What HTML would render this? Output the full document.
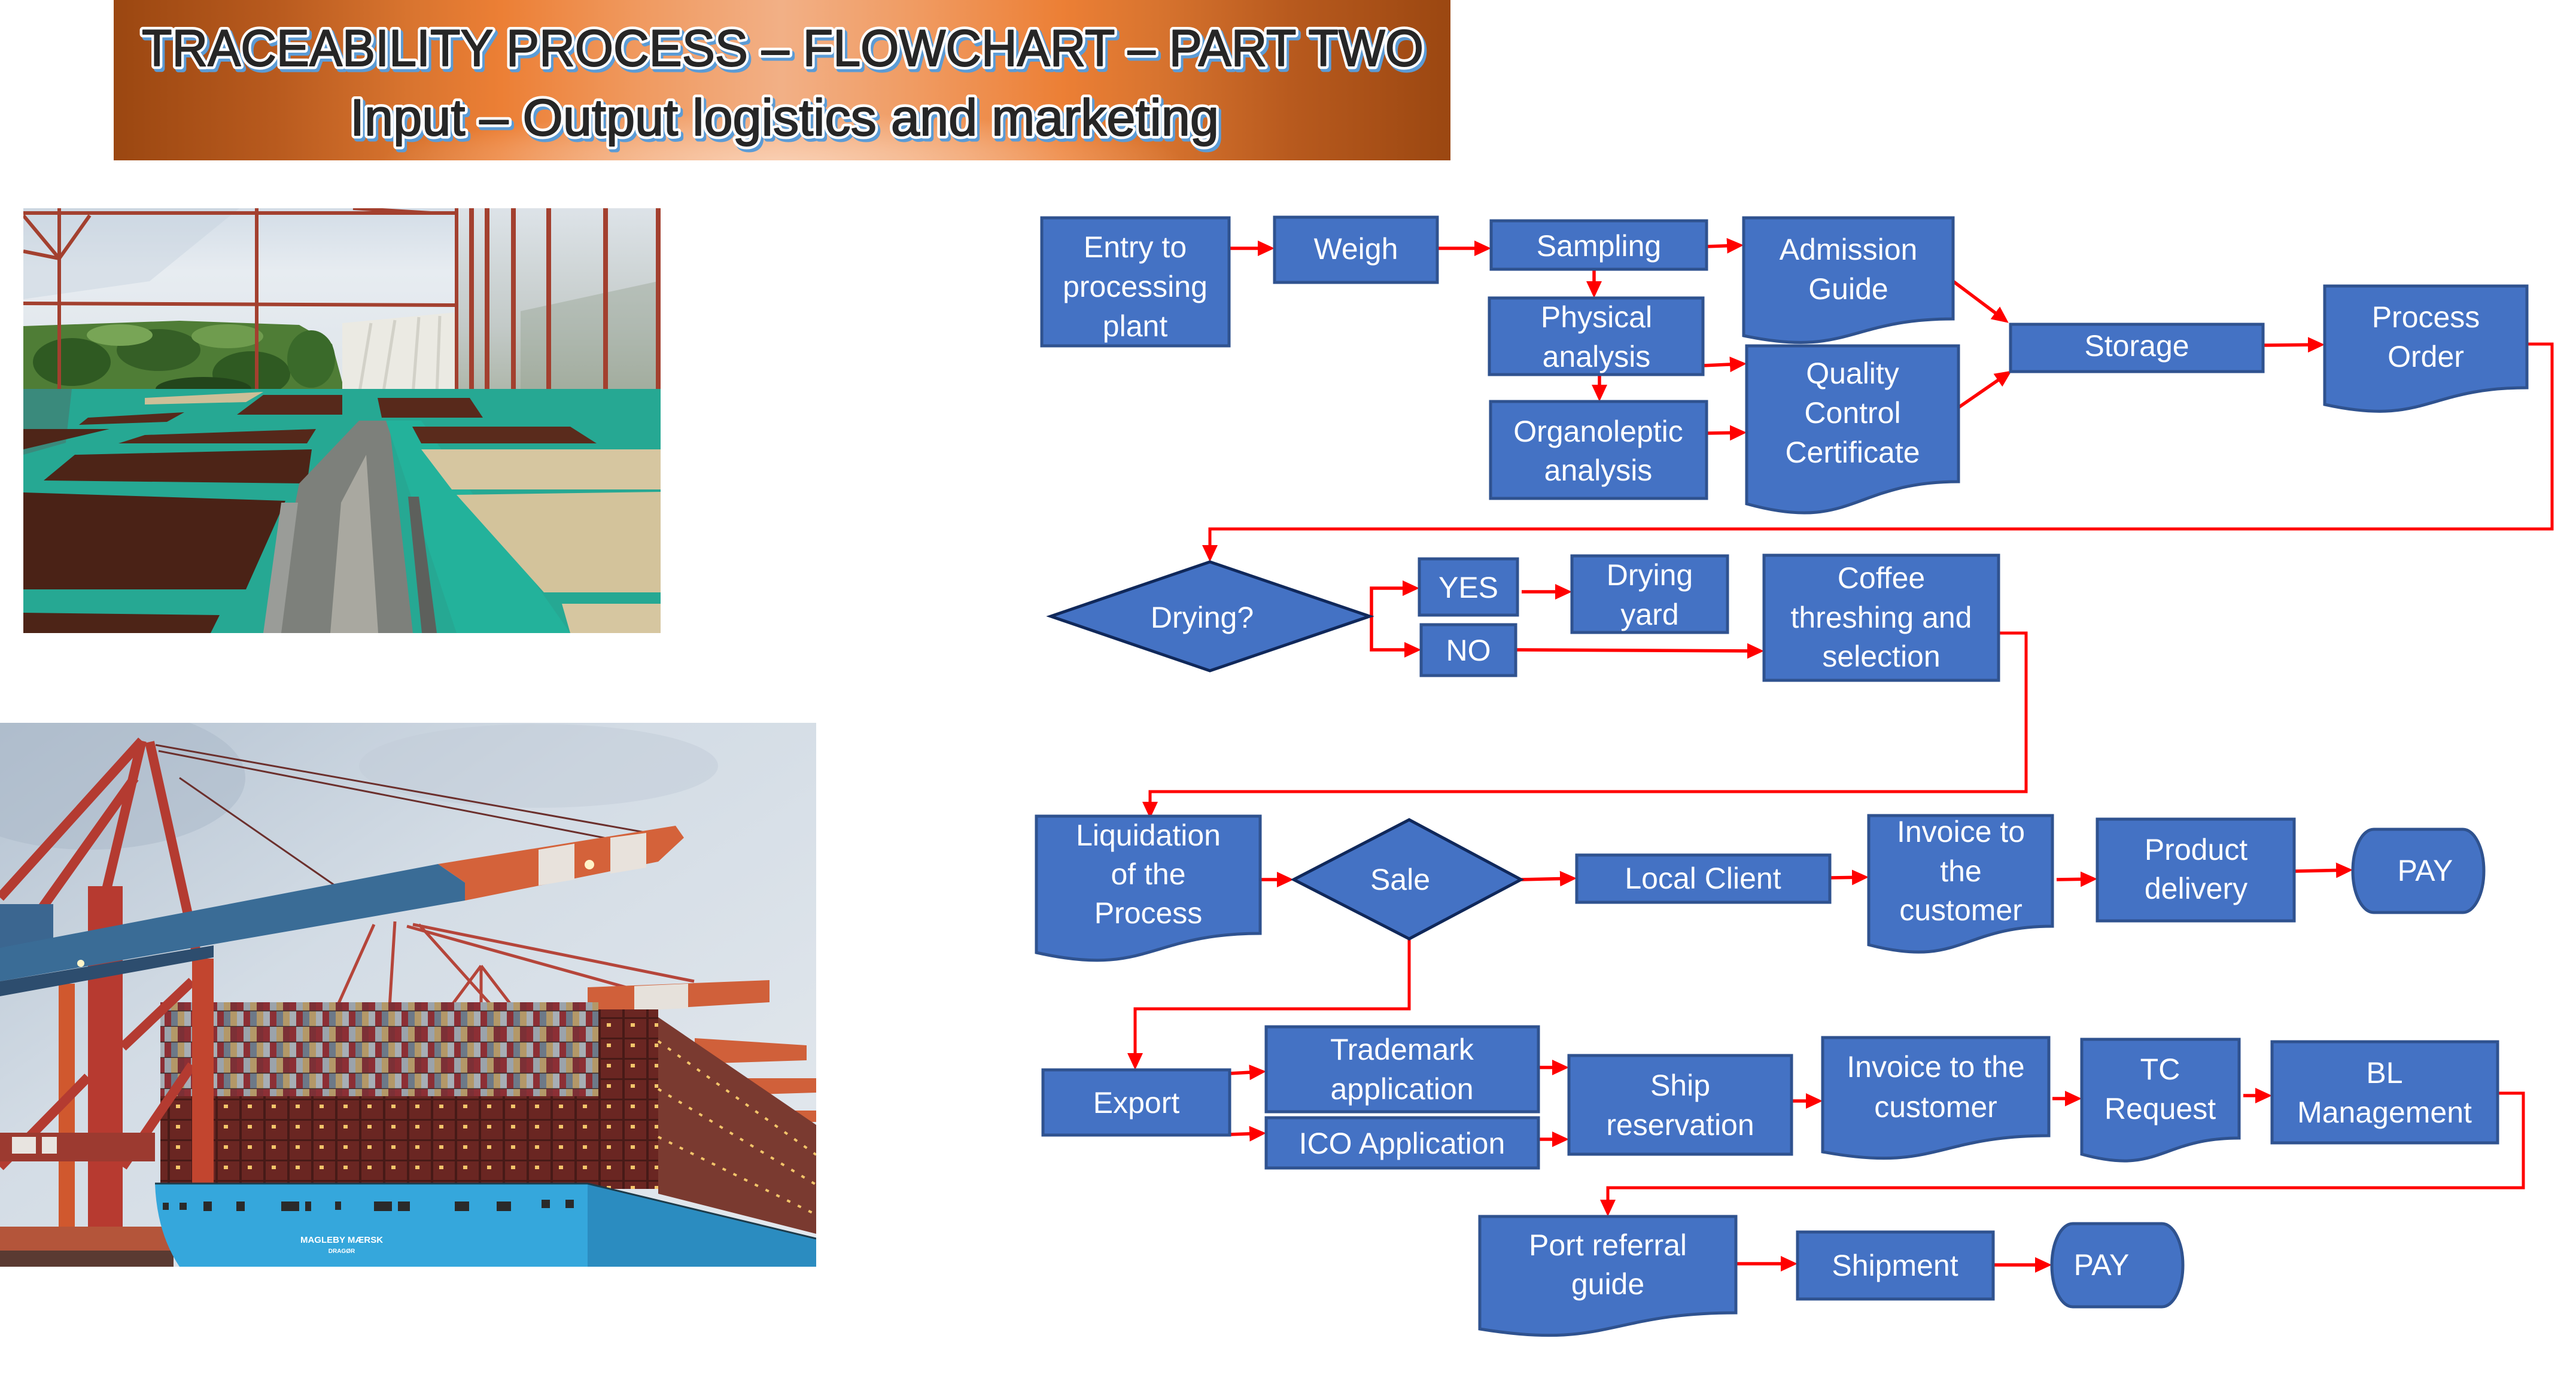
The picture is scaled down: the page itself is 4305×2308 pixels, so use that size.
<!DOCTYPE html>
<html><head><meta charset="utf-8">
<style>
html,body{margin:0;padding:0;background:#fff;}
svg{display:block;}
.bx{fill:#4472c4;stroke:#2f528f;stroke-width:5;}
.dm{fill:#4472c4;stroke:#10285a;stroke-width:5;}
.t{font-family:"Liberation Sans",sans-serif;font-size:50px;fill:#fff;text-anchor:middle;}
.ar{fill:none;stroke:#ff0000;stroke-width:5.5;marker-end:url(#ah);}
.cn{fill:none;stroke:#ff0000;stroke-width:5;stroke-linejoin:miter;marker-end:url(#ah);}
.rf{stroke:#a3402f;fill:none;}
</style></head>
<body>
<svg width="4305" height="2308" viewBox="0 0 4305 2308" xmlns="http://www.w3.org/2000/svg">
<defs>
  <linearGradient id="tg" x1="0" y1="0" x2="1" y2="0">
    <stop offset="0" stop-color="#9b4711"/>
    <stop offset="0.12" stop-color="#b85a1e"/>
    <stop offset="0.22" stop-color="#d8742f"/>
    <stop offset="0.29" stop-color="#ec7f35"/>
    <stop offset="0.4" stop-color="#f09b62"/>
    <stop offset="0.5" stop-color="#f2b086"/>
    <stop offset="0.6" stop-color="#f09b62"/>
    <stop offset="0.71" stop-color="#ec7f35"/>
    <stop offset="0.78" stop-color="#d8742f"/>
    <stop offset="0.88" stop-color="#b85a1e"/>
    <stop offset="1" stop-color="#9b4711"/>
  </linearGradient>
  <radialGradient id="tr" cx="0.5" cy="1" r="0.3">
    <stop offset="0" stop-color="#fad3b8" stop-opacity="0.85"/>
    <stop offset="1" stop-color="#fad3b8" stop-opacity="0"/>
  </radialGradient>
  <marker id="ah" markerUnits="userSpaceOnUse" markerWidth="28" markerHeight="26" viewBox="0 0 28 26" refX="22" refY="13" orient="auto">
    <path d="M0,0 L28,13 L0,26 Z" fill="#ff0000"/>
  </marker>
  <clipPath id="c1"><rect x="39" y="348" width="1065" height="710"/></clipPath>
  <clipPath id="c2"><rect x="0" y="1208" width="1364" height="909"/></clipPath>
  <linearGradient id="roof" x1="0" y1="0" x2="0" y2="1">
    <stop offset="0" stop-color="#d3dde7"/>
    <stop offset="0.15" stop-color="#e7ecf1"/>
    <stop offset="0.3" stop-color="#e2e8ed"/>
    <stop offset="1" stop-color="#d0d6d8"/>
  </linearGradient>
  <linearGradient id="wall" x1="0" y1="0" x2="0" y2="1">
    <stop offset="0" stop-color="#dde3e8"/>
    <stop offset="0.5" stop-color="#c3cac8"/>
    <stop offset="1" stop-color="#9ea894"/>
  </linearGradient>
  <linearGradient id="sky" x1="0" y1="0" x2="1" y2="1">
    <stop offset="0" stop-color="#b4c2d1"/>
    <stop offset="0.4" stop-color="#d3dce5"/>
    <stop offset="1" stop-color="#e4e9ee"/>
  </linearGradient>
  <pattern id="cont" width="44" height="52" patternUnits="userSpaceOnUse">
    <rect x="0" y="0" width="11" height="26" fill="#8c2f35"/>
    <rect x="11" y="0" width="11" height="26" fill="#9ba3ab"/>
    <rect x="22" y="0" width="11" height="26" fill="#b39868"/>
    <rect x="33" y="0" width="11" height="26" fill="#7c3036"/>
    <rect x="0" y="26" width="11" height="26" fill="#a7aeb5"/>
    <rect x="11" y="26" width="11" height="26" fill="#8c2f35"/>
    <rect x="22" y="26" width="11" height="26" fill="#6d7988"/>
    <rect x="33" y="26" width="11" height="26" fill="#b39868"/>
    <path d="M0,25.5 H44 M0,51.5 H44" stroke="#3a2a2a" stroke-width="1.5"/>
  </pattern>
  <pattern id="lite" width="40" height="34" patternUnits="userSpaceOnUse">
    <rect x="0" y="0" width="40" height="34" fill="#6a2622"/>
    <rect x="0" y="0" width="4" height="34" fill="#471a17"/>
    <rect x="0" y="0" width="40" height="3" fill="#471a17"/>
    <rect x="14" y="10" width="7" height="6" fill="#f3c56b"/>
  </pattern>
</defs>

<!-- ============ TITLE BAND ============ -->
<rect x="190" y="0" width="2234" height="268" fill="url(#tg)"/>
<rect x="190" y="0" width="2234" height="268" fill="url(#tr)"/>
<g font-family="Liberation Sans, sans-serif" font-size="86" stroke-linejoin="round">
  <text x="241" y="115" textLength="2142" lengthAdjust="spacingAndGlyphs" fill="#5b9bd5" stroke="#5b9bd5" stroke-width="11">TRACEABILITY PROCESS – FLOWCHART – PART TWO</text>
  <text x="237" y="110" textLength="2142" lengthAdjust="spacingAndGlyphs" fill="#ffffff" stroke="#ffffff" stroke-width="11">TRACEABILITY PROCESS – FLOWCHART – PART TWO</text>
  <text x="237" y="110" textLength="2142" lengthAdjust="spacingAndGlyphs" fill="#262626" stroke="#262626" stroke-width="2">TRACEABILITY PROCESS – FLOWCHART – PART TWO</text>
  <text x="589" y="231" textLength="1452" lengthAdjust="spacingAndGlyphs" fill="#5b9bd5" stroke="#5b9bd5" stroke-width="11">Input – Output logistics and marketing</text>
  <text x="585" y="226" textLength="1452" lengthAdjust="spacingAndGlyphs" fill="#ffffff" stroke="#ffffff" stroke-width="11">Input – Output logistics and marketing</text>
  <text x="585" y="226" textLength="1452" lengthAdjust="spacingAndGlyphs" fill="#262626" stroke="#262626" stroke-width="2">Input – Output logistics and marketing</text>
</g>

<!-- ============ PHOTO 1 : drying beds ============ -->
<g clip-path="url(#c1)">
  <rect x="39" y="348" width="1065" height="710" fill="url(#roof)"/>
  <path d="M39,348 L400,348 L250,470 L39,500 Z" fill="#c3d0dd" opacity="0.4"/>
  <!-- trees -->
  <path d="M39,545 L300,536 L500,543 L555,575 L575,650 L39,690 Z" fill="#4f7d36"/>
  <ellipse cx="120" cy="605" rx="65" ry="40" fill="#2f5a22"/>
  <ellipse cx="265" cy="585" rx="70" ry="35" fill="#355f26"/>
  <ellipse cx="420" cy="625" rx="65" ry="38" fill="#2f5a22"/>
  <ellipse cx="520" cy="600" rx="40" ry="48" fill="#3a6a2a"/>
  <ellipse cx="200" cy="560" rx="55" ry="18" fill="#78a556"/>
  <ellipse cx="380" cy="562" rx="60" ry="20" fill="#6f9c4e"/>
  <ellipse cx="340" cy="650" rx="80" ry="20" fill="#23451b"/>
  <!-- white structure -->
  <path d="M572,540 L762,522 L762,662 L572,662 Z" fill="#ebeae3"/>
  <path d="M620,540 L600,660 M660,535 L640,660 M700,530 L690,660 M735,528 L730,660" stroke="#d2d1c8" stroke-width="5"/>
  <!-- right wall -->
  <rect x="763" y="348" width="341" height="392" fill="url(#wall)"/>
  <path d="M870,520 L1100,470 L1100,700 L870,700 Z" fill="#8d9a86" opacity="0.35"/>
  <!-- red frame -->
  <g class="rf" stroke-width="6">
    <path d="M39,356 L763,356 M39,507 L763,510"/>
    <path d="M99,348 L99,660 M429,348 L429,660 M763,348 L763,715"/>
    <path d="M39,360 L99,432 L150,360 M39,420 L99,432"/>
    <path d="M590,348 L720,356"/>
  </g>
  <g class="rf" stroke-width="8">
    <path d="M788,348 L788,700 M814,348 L814,705 M858,348 L858,705 M917,348 L917,715 M1012,348 L1012,720 M1100,348 L1100,730"/>
    <path d="M763,720 L1104,760" stroke-width="6"/>
  </g>
  <!-- beds -->
  <rect x="39" y="650" width="1065" height="408" fill="#26a893"/>
  <path d="M39,650 L120,650 L110,740 L39,760 Z" fill="#3a8a7c"/>
  <path d="M242,665 L440,655 L411,672 L242,676 Z" fill="#cdbf98"/>
  <path d="M440,660 L572,660 L572,693 L396,693 Z" fill="#56291b"/>
  <path d="M147,698 L308,689 L279,705 L132,710 Z" fill="#56291b"/>
  <path d="M39,717 L183,717 L39,751 Z" fill="#4e2518"/>
  <path d="M242,727 L528,717 L513,741 L198,741 Z" fill="#55281a"/>
  <path d="M73,803 L125,760 L521,751 L513,808 Z" fill="#4d2417"/>
  <path d="M39,823 L477,837 L411,985 L39,985 Z" fill="#4a2216"/>
  <path d="M39,1024 L367,1028 L352,1058 L39,1058 Z" fill="#4d2417"/>
  <!-- aisle -->
  <path d="M500,808 L600,703 L650,703 L690,1058 L450,1058 Z" fill="#7d807b"/>
  <path d="M570,840 L612,760 L632,1058 L552,1058 Z" fill="#a9a8a0"/>
  <path d="M470,840 L498,840 L470,1058 L440,1058 Z" fill="#9a9c98"/>
  <!-- right side -->
  <path d="M645,703 L704,703 L953,1058 L763,1058 Z" fill="#23b29b"/>
  <path d="M631,665 L785,665 L807,698 L638,698 Z" fill="#58291b"/>
  <path d="M689,713 L953,713 L997,741 L704,741 Z" fill="#5a2b1c"/>
  <path d="M704,751 L1104,751 L1104,818 L755,818 Z" fill="#d6c6a0"/>
  <path d="M763,827 L1104,822 L1104,990 L909,990 Z" fill="#d3c39b"/>
  <path d="M939,1009 L1104,1009 L1104,1058 L953,1058 Z" fill="#d6c6a0"/>
  <path d="M682,830 L700,830 L730,1058 L705,1058 Z" fill="#5d605c"/>
</g>

<!-- ============ PHOTO 2 : container ship ============ -->
<g clip-path="url(#c2)">
  <rect x="0" y="1208" width="1364" height="909" fill="url(#sky)"/>
  <ellipse cx="150" cy="1300" rx="260" ry="120" fill="#a9b7c7" opacity="0.5"/>
  <ellipse cx="900" cy="1280" rx="300" ry="70" fill="#c2ccd7" opacity="0.5"/>
  <!-- background crane lines -->
  <g stroke="#b5453a" stroke-width="5" fill="none">
    <path d="M625,1545 L560,1690 M660,1540 L650,1700 M700,1545 L830,1690 M690,1545 L1160,1640 M680,1548 L1100,1665"/>
    <path d="M804,1614 L740,1700 M804,1614 L870,1700 M804,1614 L804,1700"/>
  </g>
  <!-- far right orange beams -->
  <path d="M982,1650 L1286,1638 L1286,1675 L982,1693 Z" fill="#d0603a"/>
  <path d="M1060,1648 L1150,1644 L1150,1685 L1060,1689 Z" fill="#e6e1db"/>
  <path d="M1161,1735 L1348,1747 L1348,1772 L1161,1778 Z" fill="#d0603a"/>
  <path d="M1170,1802 L1364,1802 L1364,1826 L1170,1832 Z" fill="#d0603a"/>
  <path d="M1196,1856 L1364,1856 L1364,1875 L1196,1881 Z" fill="#d0603a"/>
  <!-- containers -->
  <rect x="268" y="1675" width="732" height="160" fill="url(#cont)"/>
  <rect x="268" y="1832" width="732" height="153" fill="url(#lite)"/>
  <rect x="1000" y="1687" width="100" height="300" fill="url(#lite)"/>
  <path d="M1100,1700 L1364,1880 L1364,2062 L1100,1995 Z" fill="#7a3a30"/>
  <path d="M1100,1740 L1364,1930" stroke="#f2c46a" stroke-width="4" stroke-dasharray="6 14"/>
  <path d="M1100,1820 L1364,1980" stroke="#f2c46a" stroke-width="4" stroke-dasharray="6 14"/>
  <path d="M1100,1900 L1364,2030" stroke="#f2c46a" stroke-width="4" stroke-dasharray="6 14"/>
  <!-- main crane -->
  <rect x="98" y="1644" width="27" height="440" fill="#d0582e"/>
  <g stroke="#b43b31" stroke-width="16" fill="none">
    <path d="M237,1238 L0,1500 M237,1238 L170,1520 M250,1240 L330,1600 M225,1300 L40,1560"/>
    <path d="M205,1750 L321,1640 M147,1800 L0,1950 M205,1950 L321,1780"/>
  </g>
  <rect x="147" y="1481" width="58" height="610" fill="#b73a30"/>
  <rect x="321" y="1602" width="36" height="385" fill="#c2452f"/>
  <path d="M0,1511 L89,1511 L89,1614 L0,1614 Z" fill="#3b6690"/>
  <g stroke="#6b2f2c" stroke-width="3" fill="none">
    <path d="M260,1245 L1100,1395 M265,1255 L1060,1410 M300,1300 L560,1480"/>
  </g>
  <path d="M0,1584 L732,1444 L777,1475 L777,1505 L0,1640 Z" fill="#3a6c96"/>
  <path d="M0,1640 L357,1580 L357,1600 L0,1665 Z" fill="#2d4d6e"/>
  <path d="M732,1444 L1129,1380 L1143,1400 L1100,1440 L777,1505 L777,1475 Z" fill="#d4623a"/>
  <path d="M900,1420 L960,1410 L960,1470 L900,1480 Z" fill="#e8e2dc"/>
  <path d="M1020,1400 L1080,1392 L1080,1450 L1020,1460 Z" fill="#e8e2dc"/>
  <circle cx="985" cy="1445" r="8" fill="#fff4c8"/>
  <circle cx="135" cy="1610" r="6" fill="#fff4c8"/>
  <!-- left bottom -->
  <rect x="0" y="1893" width="259" height="48" fill="#9c3a30"/>
  <rect x="20" y="1900" width="40" height="28" fill="#e8e4e0"/>
  <rect x="70" y="1900" width="25" height="28" fill="#e8e4e0"/>
  <rect x="0" y="2050" width="290" height="67" fill="#b4553a"/>
  <rect x="0" y="2090" width="290" height="27" fill="#5a3a32"/>
  <!-- ship hull -->
  <path d="M259,1978 L982,1978 L982,2117 L300,2117 Q262,2060 259,1978 Z" fill="#35a7dc"/>
  <path d="M982,1978 L1364,2070 L1364,2117 L982,2117 Z" fill="#2b8cc0"/>
  <path d="M259,1978 L982,1978 L1364,2070" stroke="#1d3b4a" stroke-width="3" fill="none"/>
  <g fill="#2a2a2a">
    <rect x="272" y="2010" width="10" height="12"/><rect x="300" y="2010" width="12" height="12"/>
    <rect x="340" y="2008" width="14" height="16"/><rect x="395" y="2008" width="14" height="16"/>
    <rect x="470" y="2008" width="30" height="16"/><rect x="510" y="2008" width="10" height="16"/>
    <rect x="560" y="2008" width="10" height="14"/><rect x="625" y="2008" width="30" height="16"/>
    <rect x="665" y="2008" width="20" height="16"/><rect x="760" y="2008" width="24" height="16"/>
    <rect x="830" y="2008" width="24" height="16"/><rect x="905" y="2005" width="14" height="14"/>
    <rect x="945" y="2005" width="14" height="14"/>
  </g>
  <text x="571" y="2077" font-family="Liberation Sans, sans-serif" font-size="15" font-weight="bold" fill="#ffffff" text-anchor="middle">MAGLEBY MÆRSK</text>
  <text x="571" y="2094" font-family="Liberation Sans, sans-serif" font-size="10" font-weight="bold" fill="#ffffff" text-anchor="middle">DRAGØR</text>
</g>

<!-- ============ FLOWCHART ============ -->
<!-- connectors (long) -->
<path class="cn" d="M4223,575 H4265 V884 H2022 V933"/>
<path class="cn" d="M3340,1058 H3386 V1323 H1922 V1362"/>
<path class="cn" d="M2355,1569 V1686 H1897 V1782"/>
<path class="cn" d="M4174,1827 H4217 V1985 H2687 V2027"/>

<!-- short arrows -->
<path class="ar" d="M2054,415 L2124,415"/>
<path class="ar" d="M2402,415 L2486,415"/>
<path class="ar" d="M2852,412 L2908,410"/>
<path class="ar" d="M2664,450 L2664,492"/>
<path class="ar" d="M2846,611 L2913,608"/>
<path class="ar" d="M2673,626 L2673,665"/>
<path class="ar" d="M2852,724 L2913,723"/>
<path class="ar" d="M3264,470 L3352,536"/>
<path class="ar" d="M3273,681 L3357,623"/>
<path class="ar" d="M3782,577 L3879,576"/>

<path class="ar" d="M2289,1030 H2292 V983 H2366"/>
<path class="ar" d="M2292,1030 V1086 H2369"/>
<path class="ar" d="M2543,989 H2621"/>
<path class="ar" d="M2533,1086 L2942,1088"/>

<path class="ar" d="M2106,1470 H2156"/>
<path class="ar" d="M2542,1470 L2629,1468"/>
<path class="ar" d="M3058,1467 L3117,1466"/>
<path class="ar" d="M3437,1470 L3499,1469"/>
<path class="ar" d="M3834,1456 L3926,1454"/>

<path class="ar" d="M2055,1794 L2110,1791"/>
<path class="ar" d="M2055,1896 L2110,1894"/>
<path class="ar" d="M2571,1784 H2616"/>
<path class="ar" d="M2571,1904 H2616"/>
<path class="ar" d="M2994,1840 H3040"/>
<path class="ar" d="M3430,1836 H3473"/>
<path class="ar" d="M3749,1831 H3791"/>

<path class="ar" d="M2901,2112 H2998"/>
<path class="ar" d="M3331,2114 H3423"/>

<!-- Row 1 -->
<rect class="bx" x="1741" y="364" width="313" height="214"/>
<text class="t" x="1897" y="430">Entry to</text>
<text class="t" x="1897" y="496">processing</text>
<text class="t" x="1897" y="562">plant</text>

<rect class="bx" x="2130" y="363" width="272" height="109"/>
<text class="t" x="2266" y="433">Weigh</text>

<rect class="bx" x="2492" y="369" width="360" height="81"/>
<text class="t" x="2672" y="428">Sampling</text>

<rect class="bx" x="2489" y="498" width="357" height="128"/>
<text class="t" x="2668" y="547">Physical</text>
<text class="t" x="2668" y="613">analysis</text>

<rect class="bx" x="2491" y="671" width="361" height="162"/>
<text class="t" x="2671" y="738">Organoleptic</text>
<text class="t" x="2671" y="803">analysis</text>

<path class="bx" d="M2914,364 H3264 V533 C3089,533 3089,598 2914,561 Z"/>
<text class="t" x="3089" y="434">Admission</text>
<text class="t" x="3089" y="500">Guide</text>

<path class="bx" d="M2919,578 H3273 V805 C3096,805 3096,891 2919,842 Z"/>
<text class="t" x="3096" y="641">Quality</text>
<text class="t" x="3096" y="707">Control</text>
<text class="t" x="3096" y="773">Certificate</text>

<rect class="bx" x="3360" y="542" width="422" height="79"/>
<text class="t" x="3571" y="595">Storage</text>

<path class="bx" d="M3885,478 H4223 V648 C4054,648 4054,713 3885,676 Z"/>
<text class="t" x="4054" y="547">Process</text>
<text class="t" x="4054" y="613">Order</text>

<!-- Row 2 -->
<path class="dm" d="M1756,1030 L2022,939 L2289,1030 L2022,1121 Z"/>
<text class="t" x="2009" y="1049">Drying?</text>

<rect class="bx" x="2372" y="934" width="164" height="94"/>
<text class="t" x="2454" y="999">YES</text>

<rect class="bx" x="2375" y="1044" width="158" height="85"/>
<text class="t" x="2454" y="1104">NO</text>

<rect class="bx" x="2627" y="929" width="260" height="128"/>
<text class="t" x="2757" y="978">Drying</text>
<text class="t" x="2757" y="1044">yard</text>

<rect class="bx" x="2948" y="928" width="392" height="209"/>
<text class="t" x="3144" y="983">Coffee</text>
<text class="t" x="3144" y="1049">threshing and</text>
<text class="t" x="3144" y="1114">selection</text>

<!-- Row 3 -->
<path class="bx" d="M1732,1364 H2106 V1560 C1919,1560 1919,1634 1732,1592 Z"/>
<text class="t" x="1919" y="1413">Liquidation</text>
<text class="t" x="1919" y="1478">of the</text>
<text class="t" x="1919" y="1543">Process</text>

<path class="dm" d="M2162,1470 L2355,1370 L2542,1470 L2355,1569 Z"/>
<text class="t" x="2340" y="1487">Sale</text>

<rect class="bx" x="2635" y="1429" width="423" height="79"/>
<text class="t" x="2846" y="1485">Local Client</text>

<path class="bx" d="M3123,1363 H3430 V1548 C3277,1548 3277,1619 3123,1579 Z"/>
<text class="t" x="3277" y="1407">Invoice to</text>
<text class="t" x="3277" y="1473">the</text>
<text class="t" x="3277" y="1538">customer</text>

<rect class="bx" x="3505" y="1369" width="329" height="170"/>
<text class="t" x="3670" y="1437">Product</text>
<text class="t" x="3670" y="1502">delivery</text>

<rect class="bx" x="3932" y="1386" width="219" height="139" rx="35" ry="69.5"/>
<text class="t" x="4053" y="1472">PAY</text>

<!-- Row 4 -->
<rect class="bx" x="1743" y="1788" width="312" height="109"/>
<text class="t" x="1899" y="1860">Export</text>

<rect class="bx" x="2116" y="1716" width="455" height="142"/>
<text class="t" x="2343" y="1771">Trademark</text>
<text class="t" x="2343" y="1837">application</text>

<rect class="bx" x="2116" y="1868" width="455" height="84"/>
<text class="t" x="2343" y="1928">ICO Application</text>

<rect class="bx" x="2622" y="1764" width="372" height="165"/>
<text class="t" x="2808" y="1831">Ship</text>
<text class="t" x="2808" y="1897">reservation</text>

<path class="bx" d="M3046,1734 H3424 V1898 C3235,1898 3235,1960 3046,1925 Z"/>
<text class="t" x="3235" y="1800">Invoice to the</text>
<text class="t" x="3235" y="1867">customer</text>

<path class="bx" d="M3479,1737 H3742 V1902 C3610,1902 3610,1965 3479,1929 Z"/>
<text class="t" x="3610" y="1804">TC</text>
<text class="t" x="3610" y="1870">Request</text>

<rect class="bx" x="3797" y="1741" width="377" height="169"/>
<text class="t" x="3985" y="1810">BL</text>
<text class="t" x="3985" y="1876">Management</text>

<!-- Row 5 -->
<path class="bx" d="M2473,2033 H2901 V2194 C2687,2194 2687,2256 2473,2221 Z"/>
<text class="t" x="2687" y="2098">Port referral</text>
<text class="t" x="2687" y="2163">guide</text>

<rect class="bx" x="3004" y="2059" width="327" height="112"/>
<text class="t" x="3167" y="2132">Shipment</text>

<rect class="bx" x="3429" y="2045" width="219" height="139" rx="35" ry="69.5"/>
<text class="t" x="3512" y="2131">PAY</text>
</svg>
</body></html>
